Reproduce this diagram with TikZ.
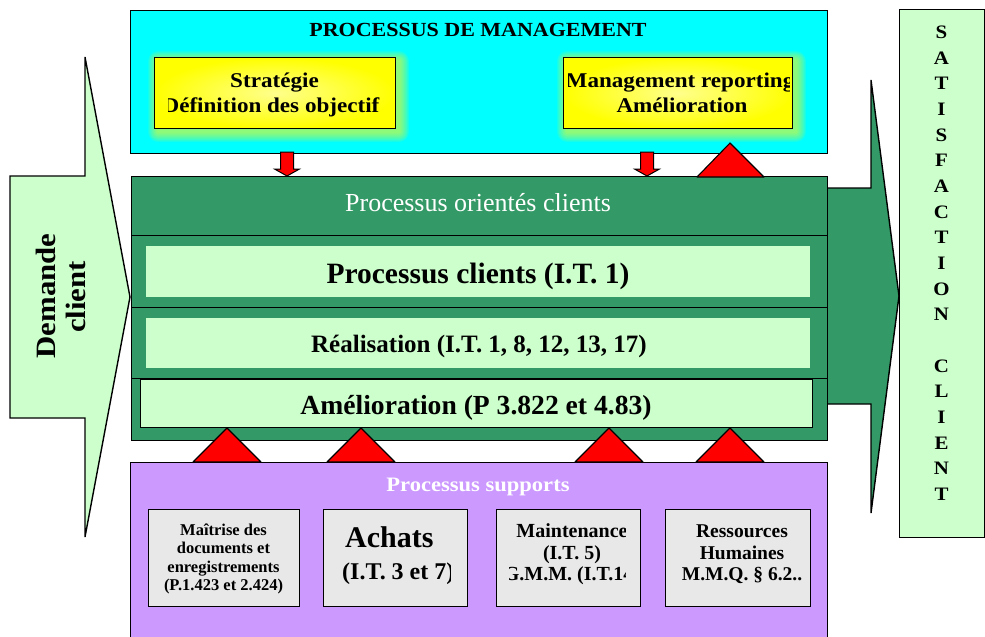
\documentclass[tikz,border=0pt]{standalone}
\usepackage{fontspec}
\setmainfont{Liberation Serif}
\newfontfamily\widefont[FakeStretch=1.1]{Liberation Serif}
\definecolor{mgmtcyan}{RGB}{0,255,255}
\definecolor{custgreen}{RGB}{51,153,102}
\definecolor{palegreen}{RGB}{204,255,204}
\definecolor{supportviolet}{RGB}{204,153,255}
\definecolor{cardgray}{RGB}{232,232,232}
\definecolor{glowyellow}{RGB}{235,250,40}
\newcommand{\sz}[2]{\fontsize{#1}{#2}\selectfont}

\begin{document}
\begin{tikzpicture}[x=1pt, y=-1pt,
  outline/.style={draw=black, line width=1.4pt, line join=miter},
  panel/.style={outline, anchor=north west, inner sep=0pt},
  flatpanel/.style={anchor=north west, inner sep=0pt, fill=palegreen},
  card/.style={panel, line width=1.2pt, fill=cardgray, minimum height=97},
  redup/.style={draw=black, fill=red, line width=1.1pt, line join=round},
  reddown/.style={draw=black, fill=red, line width=1pt, line join=miter},
  txt/.style={inner sep=0pt, anchor=base},
  ]
\useasboundingbox (0,0) rectangle (985,637);

% incoming demand arrow
\draw[outline, fill=palegreen] (10,176) -- (85,176) -- (85,57) -- (130,297)
  -- (85,537) -- (85,418) -- (10,418) -- cycle;
\node[txt, rotate=90, font=\widefont\bfseries\sz{28}{30}] (demand-1) at (55,296) {Demande};
\node[txt, rotate=90, font=\widefont\bfseries\sz{28}{30}] (demand-2) at (85,297) {client};

% outgoing arrow towards customer satisfaction
\draw[outline, fill=custgreen] (820,188) -- (871,188) -- (871,80) -- (899,296)
  -- (871,513) -- (871,404) -- (820,404) -- cycle;

% customer satisfaction column
\node[panel, fill=palegreen, minimum width=85, minimum height=528] (satbox) at (899,9) {};
\foreach \ch [count=\i from 0] in {S,A,T,I,S,F,A,C,T,I,O,N,{},C,L,I,E,N,T}
  \node[txt, font=\widefont\bfseries\sz{19}{19}] (sat-\i) at (941.5, 38.5+25.67*\i) {\ch};

% management processes
\node[panel, fill=mgmtcyan, minimum width=697, minimum height=143] (mgmt) at (130,10) {};
\node[txt, font=\widefont\bfseries\sz{20}{24}] (mgmt-title) at (478,36.5) {PROCESSUS DE MANAGEMENT};

% soft glow behind the two yellow cards
\foreach \bx/\by/\ex/\ey in {154/57/395/128, 563/57/792/128}{
  \foreach \k in {1,...,10}
    \fill[glowyellow, fill opacity=0.09, rounded corners=\k pt]
      (\bx+4-\k,\by+4-\k) rectangle (\ex+4+\k,\ey+4+\k);
}
\node[panel, line width=1.2pt, inner color=yellow!45!white, outer color=yellow,
  minimum width=241, minimum height=71] (strategy) at (154,57) {};
\node[panel, line width=1.2pt, inner color=yellow!45!white, outer color=yellow,
  minimum width=229, minimum height=71] (reporting) at (563,57) {};
\begin{scope}
  \clip (168,57) rectangle (393,128);
  \node[txt, font=\widefont\bfseries\sz{21}{25}] (strategy-1) at (274.5,87) {Stratégie};
  \node[txt, font=\widefont\bfseries\sz{21}{25}] (strategy-2) at (271,112) {Définition des objectif};
\end{scope}
\begin{scope}
  \clip (568,57) rectangle (789,128);
  \node[txt, font=\widefont\bfseries\sz{21}{25}] (reporting-1) at (680,87) {Management reporting};
  \node[txt, font=\widefont\bfseries\sz{21}{25}] (reporting-2) at (682,112) {Amélioration};
\end{scope}

% management feeds the customer processes
\foreach \ax in {287,647}
  \draw[reddown] (\ax-6.5,152) -- (\ax+6.5,152) -- (\ax+6.5,169) -- (\ax+12.5,169)
    -- (\ax,176) -- (\ax-12.5,169) -- (\ax-6.5,169) -- cycle;

% customer oriented processes
\node[panel, fill=custgreen, minimum width=696, minimum height=264] (customer) at (131,176) {};
\node[panel, minimum width=696, minimum height=59] (cust-head) at (131,176) {};
\node[panel, minimum width=696, minimum height=72] (cust-band1) at (131,235) {};
\node[panel, minimum width=696, minimum height=71] (cust-band2) at (131,307) {};
\node[flatpanel, minimum width=664, minimum height=51] (clients) at (146,246) {};
\node[flatpanel, minimum width=664, minimum height=50] (realisation) at (146,318) {};
\node[panel, fill=palegreen, minimum width=672, minimum height=48] (amelioration) at (140,379) {};
\node[txt, text=white, font=\sz{26}{30}] (cust-title) at (478,211) {Processus orientés clients};
\node[txt, font=\bfseries\sz{29.5}{32}] (clients-text) at (478,283) {Processus clients (I.T. 1)};
\node[txt, font=\bfseries\sz{25}{30}] (realisation-text) at (479,352) {Réalisation (I.T. 1, 8, 12, 13, 17)};
\node[txt, font=\bfseries\sz{27.6}{30}] (amelioration-text) at (476,414) {Amélioration (P 3.822 et 4.83)};

% feedback to management
\draw[redup] (697,177) -- (730,143) -- (764,177) -- cycle;

% support processes
\node[panel, fill=supportviolet, minimum width=697, minimum height=185] (support) at (130,462) {};
\node[txt, text=white, font=\widefont\bfseries\sz{20.5}{24}] (support-title) at (478,491) {Processus supports};
\foreach \tx in {227,361,609,730}
  \draw[redup] (\tx-34,462) -- (\tx,428) -- (\tx+34,462) -- cycle;

\node[card, minimum width=151] (docs) at (148,509) {};
\node[card, minimum width=144] (purchase) at (323,509) {};
\node[card, minimum width=144] (maint) at (496,509) {};
\node[card, minimum width=145] (hr) at (665,509) {};

\foreach \t [count=\i] in {Maîtrise des, documents et, enregistrements, (P.1.423 et 2.424)}
  \node[txt, font=\bfseries\sz{16.5}{18}] (docs-\i) at (223.5, 535+18.5*\i-18.5) {\t};

\node[txt, anchor=base west, font=\bfseries\sz{30}{32}] (purchase-1) at (345,547) {Achats};
\begin{scope}
  \clip (323,509) rectangle (450,606);
  \node[txt, anchor=base west, font=\bfseries\sz{24}{26}] (purchase-2) at (342,579) {(I.T. 3 et 7)};
\end{scope}

\begin{scope}
  \clip (509,509) rectangle (625,606);
  \node[txt, font=\bfseries\sz{20}{22}] (maint-1) at (572,537) {Maintenance};
  \node[txt, font=\bfseries\sz{20}{22}] (maint-2) at (572,559) {(I.T. 5)};
  \node[txt, font=\bfseries\sz{20}{22}] (maint-3) at (572,580) {G.M.M. (I.T.14)};
\end{scope}

\node[txt, font=\bfseries\sz{19.5}{22}] (hr-1) at (742,537) {Ressources};
\node[txt, font=\bfseries\sz{19.5}{22}] (hr-2) at (742,559) {Humaines};
\node[txt, font=\bfseries\sz{19.5}{22}] (hr-3) at (742,580) {M.M.Q. § 6.2..};
\end{tikzpicture}
\end{document}
